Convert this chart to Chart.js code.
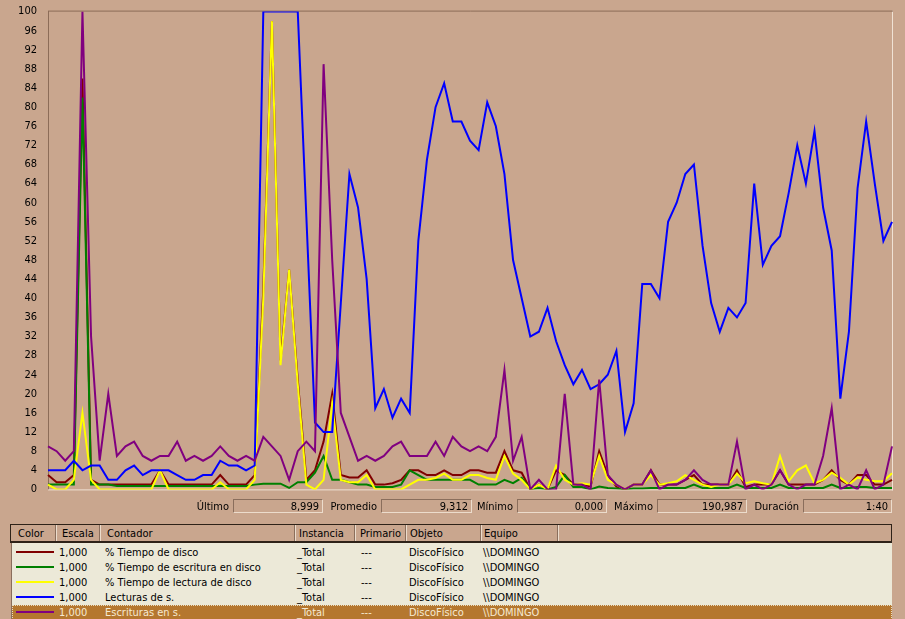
<!DOCTYPE html>
<html>
<head>
<meta charset="utf-8">
<script src="https://cdn.jsdelivr.net/npm/chart.js@4.4.0/dist/chart.umd.min.js"></script>
<style>
  body {
    margin: 0;
    width: 905px;
    height: 619px;
    overflow: hidden;
    position: relative;
    background: #c9a68e;
    font-family: "DejaVu Sans Condensed", "Liberation Sans", sans-serif;
    font-size: 11px;
    color: #000;
  }
  #chartBox { position: absolute; left: 0; top: -6px; width: 905px; height: 513px; }
  .statLabel { position: absolute; top: 500px; line-height: 14px; text-align: right; width: 70px; }
  .statBox {
    position: absolute; top: 499px; height: 14px; line-height: 14px;
    border-top: 1px solid #8a6e5c; border-left: 1px solid #8a6e5c;
    border-bottom: 1px solid #ecdccc; border-right: 1px solid #ecdccc;
    text-align: right; box-sizing: border-box; padding-right: 3px;
  }
  #header {
    position: absolute; left: 10px; top: 524px; width: 882px; height: 19px;
    box-sizing: border-box; border: 1px solid #2e2218; border-bottom-width: 2px;
    background: #c9a68e;
  }
  .hcell { position: absolute; top: 1px; line-height: 15px; }
  .hsep { position: absolute; top: 0; width: 1px; height: 16px; background: #8a6e5c; border-right: 1px solid #ecdccc; }
  #body {
    position: absolute; left: 11px; top: 543px; width: 880px; height: 76px;
    background: #ece9d8; border-left: 1px solid #8a6e5c;
  }
  .row { position: absolute; left: 0; width: 880px; height: 15px; line-height: 15px; }
  .row.sel { background: #b5772f; color: #f6ead2; outline: 1px dotted #e8dcc0; outline-offset: -1px; }
  .cell { position: absolute; top: 0; white-space: nowrap; }
  .swatch { position: absolute; left: 4px; top: 6px; width: 38px; height: 2px; }
</style>
</head>
<body>
<div id="chartBox"><canvas id="perfChart" width="905" height="513"></canvas></div>
<div id="stats"></div>
<div id="header"></div>
<div id="body"></div>
<script>
// counters, 99 one-second samples each, scale 0-100
const counterNames = [
  "% Tiempo de disco",
  "% Tiempo de escritura en disco",
  "% Tiempo de lectura de disco",
  "Lecturas de s.",
  "Escrituras en s."
];
const counterColors = ["#800000", "#008000", "#ffff00", "#0000ff", "#800080"];

const diskTime = [3, 1.5, 1.5, 3, 86, 2, 1, 1, 1, 1, 1, 1, 1, 4, 1, 1, 1, 1, 1, 1, 3, 1, 1, 1, 3,
  42, 98, 27, 46, 23, 2, 4, 10, 20, 3, 2.5, 2.5, 4, 1, 1, 1.3, 2, 4, 4, 3,
  3, 4, 3, 3, 4, 4, 3.5, 3.5, 8, 4, 3.5, 0, 1, 0, 4, 3, 1, 1, 0.6, 8,
  3, 0.6, 0, 1, 1, 4, 1, 1, 1, 2, 3, 1, 1, 1, 1, 4, 0.5, 1, 1, 1,
  4, 1, 1, 1, 1, 2, 4, 2, 1, 3, 3, 1, 1, 2];

const writeTime = [1, 1, 1, 1, 82, 1, 1, 1, 0.7, 0.7, 0.7, 0.7, 0.7, 0.7, 0.7, 0.7, 0.7, 0.7, 0.7, 0.7, 0.7, 0.7, 0.7, 0.7, 1,
  1.2, 1.2, 1.2, 0.3, 1.5, 1.5, 3.5, 7, 2, 2, 1.5, 1, 1, 0.5, 0.5, 0.5, 1, 4, 3, 2,
  2, 2, 2, 2, 2, 1, 1, 1, 2, 1.3, 2.4, 0, 0.3, 0, 0.5, 3, 0.5, 0.5, 0, 0.6,
  0.3, 0.2, 0, 0.2, 0.2, 0.3, 0.3, 0.3, 0.3, 0.3, 1, 0.3, 0.3, 0.3, 0.3, 1, 0.3, 0.3, 0.3, 0.3,
  1, 0.3, 0.3, 0.3, 0.3, 0.3, 1, 0.3, 0.3, 0.5, 0.5, 0.3, 0.3, 0.3];

const readTime = [1, 0, 0, 2, 16, 2, 0, 0, 0, 0, 0, 0, 0, 4, 0, 0, 0, 0, 0, 0, 1.5, 0, 0, 0, 2,
  40, 98, 26, 46, 22, 1, 0, 2, 18, 2, 1.5, 1.5, 3, 0, 0, 0, 0, 1, 2, 2,
  2.4, 3.3, 2, 2, 3, 3, 2.4, 2, 7, 3.3, 2, 0, 1, 0, 5, 2, 1, 1.3, 1, 7,
  2, 1, 0, 1, 1, 3, 1, 1.3, 1.7, 3, 2, 1, 0.5, 1, 1, 3.3, 1.3, 1.7, 1.3, 1,
  7, 1.7, 4, 5, 1.3, 2, 3.5, 2.4, 1, 2.5, 2, 1.7, 1.7, 3.4];

const readsPerSec = [4, 4, 4, 6, 4, 5, 5, 2, 2, 4, 5, 3, 4, 4, 4, 3, 2, 2, 3, 3, 6, 5, 5, 4, 5,
  100, 100, 100, 100, 100, 57, 14, 12, 12, 39, 66, 59, 44, 17, 21, 15, 19, 16, 52, 69,
  80, 85, 77, 77, 73, 71, 81, 76, 66, 48, 40, 32, 33, 38, 31, 26, 22, 25, 21, 22,
  24, 29, 12, 18, 43, 43, 40, 56, 60, 66, 68, 51, 39, 33, 38, 36, 39, 64, 47, 51,
  53, 62, 72, 64, 75, 59, 50, 19, 33, 63, 77, 64, 52, 56];

const writesPerSec = [9, 8, 6, 8, 100, 32, 6, 20, 7, 9, 10, 7, 6, 7, 7, 10, 6, 7, 6, 7, 9, 7, 6, 7, 6,
  11, 9, 7, 2, 8, 10, 8, 89, 48, 16, 11, 6, 7, 6, 7, 9, 10, 7, 7, 7,
  10, 7, 11, 9, 8, 9, 8, 11, 25, 6, 11, 0, 2, 0, 0, 20, 1, 1, 0, 23,
  3, 1, 0, 1, 1, 4, 0, 1, 1, 2, 4, 2, 1, 1, 1, 10, 0, 1, 0, 1,
  4, 1, 0, 1, 1, 7, 17, 0, 1, 0, 4, 0, 1, 9];

const sampleLabels = diskTime.map((_, i) => String(i + 1));

const statNames = ["Último", "Promedio", "Mínimo", "Máximo", "Duración"];
const statValues = ["8,999", "9,312", "0,000", "190,987", "1:40"];

const columnNames = ["Color", "Escala", "Contador", "Instancia", "Primario", "Objeto", "Equipo"];
const counterScale = "1,000";
const counterInstance = "_Total";
const counterParent = "---";
const counterObject = "DiscoFísico";
const counterComputer = "\\\\DOMINGO";

// layout (pixels)
const statBoxLeft = [233, 381, 517, 657, 803];
const statBoxWidth = [90, 91, 90, 90, 89];
const headerTextX = [7, 51, 96, 288, 349, 399, 473];
const headerSepX = [44, 88, 283, 343, 394, 469, 546];
const rowTextX = [0, 47, 93, 285, 349, 397, 471];

const series = [diskTime, writeTime, readTime, readsPerSec, writesPerSec];

const framePlugin = {
  id: "frame",
  beforeDatasetsDraw(chart) {
    const { ctx, chartArea: a } = chart;
    ctx.save();
    ctx.lineWidth = 1;
    ctx.strokeStyle = "#f0e2d4";
    ctx.beginPath();
    ctx.moveTo(a.right + 0.5, a.top - 1);
    ctx.lineTo(a.right + 0.5, a.bottom + 1);
    ctx.moveTo(a.left, a.bottom + 0.5);
    ctx.lineTo(a.right + 1, a.bottom + 0.5);
    ctx.stroke();
    ctx.strokeStyle = "#8c6c58";
    ctx.beginPath();
    ctx.moveTo(a.left, a.top - 0.5);
    ctx.lineTo(a.right + 1, a.top - 0.5);
    ctx.stroke();
    ctx.restore();
  }
};

new Chart(document.getElementById("perfChart"), {
  type: "line",
  data: {
    labels: sampleLabels,
    datasets: series.map((values, i) => ({
      label: counterNames[i],
      data: values,
      borderColor: counterColors[i],
      borderWidth: 2,
      pointRadius: 0,
      tension: 0,
      fill: false,
      order: series.length - i
    }))
  },
  options: {
    responsive: false,
    animation: false,
    events: [],
    layout: { padding: { left: 0, top: 7, right: 13, bottom: 8 } },
    plugins: { legend: { display: false }, tooltip: { enabled: false } },
    scales: {
      x: { type: "category", display: false, offset: false },
      y: {
        min: 0,
        max: 100,
        afterFit(scale) { scale.width = 48; },
        grid: { display: false, drawTicks: false },
        border: { display: true, color: "#8c6c58", width: 1 },
        ticks: {
          stepSize: 4,
          padding: 11,
          color: "#000",
          font: { family: "'DejaVu Sans Condensed', 'Liberation Sans', sans-serif", size: 11 }
        }
      }
    }
  },
  plugins: [framePlugin]
});

// value bar
const stats = document.getElementById("stats");
statNames.forEach((name, i) => {
  const lbl = document.createElement("div");
  lbl.className = "statLabel";
  lbl.style.left = (statBoxLeft[i] - 74) + "px";
  lbl.textContent = name;
  stats.appendChild(lbl);
  const box = document.createElement("div");
  box.className = "statBox";
  box.style.left = statBoxLeft[i] + "px";
  box.style.width = statBoxWidth[i] + "px";
  box.textContent = statValues[i];
  stats.appendChild(box);
});

// counter list
const header = document.getElementById("header");
columnNames.forEach((name, i) => {
  const c = document.createElement("div");
  c.className = "hcell";
  c.style.left = headerTextX[i] + "px";
  c.textContent = name;
  header.appendChild(c);
});
headerSepX.forEach(x => {
  const s = document.createElement("div");
  s.className = "hsep";
  s.style.left = x + "px";
  header.appendChild(s);
});

const body = document.getElementById("body");
counterNames.forEach((name, i) => {
  const row = document.createElement("div");
  row.className = "row" + (i === counterNames.length - 1 ? " sel" : "");
  row.style.top = (2 + i * 15) + "px";
  const sw = document.createElement("div");
  sw.className = "swatch";
  sw.style.background = counterColors[i];
  row.appendChild(sw);
  const texts = [null, counterScale, name, counterInstance, counterParent, counterObject, counterComputer];
  texts.forEach((t, j) => {
    if (t === null) return;
    const c = document.createElement("div");
    c.className = "cell";
    c.style.left = rowTextX[j] + "px";
    c.textContent = t;
    row.appendChild(c);
  });
  body.appendChild(row);
});
</script>
</body>
</html>
